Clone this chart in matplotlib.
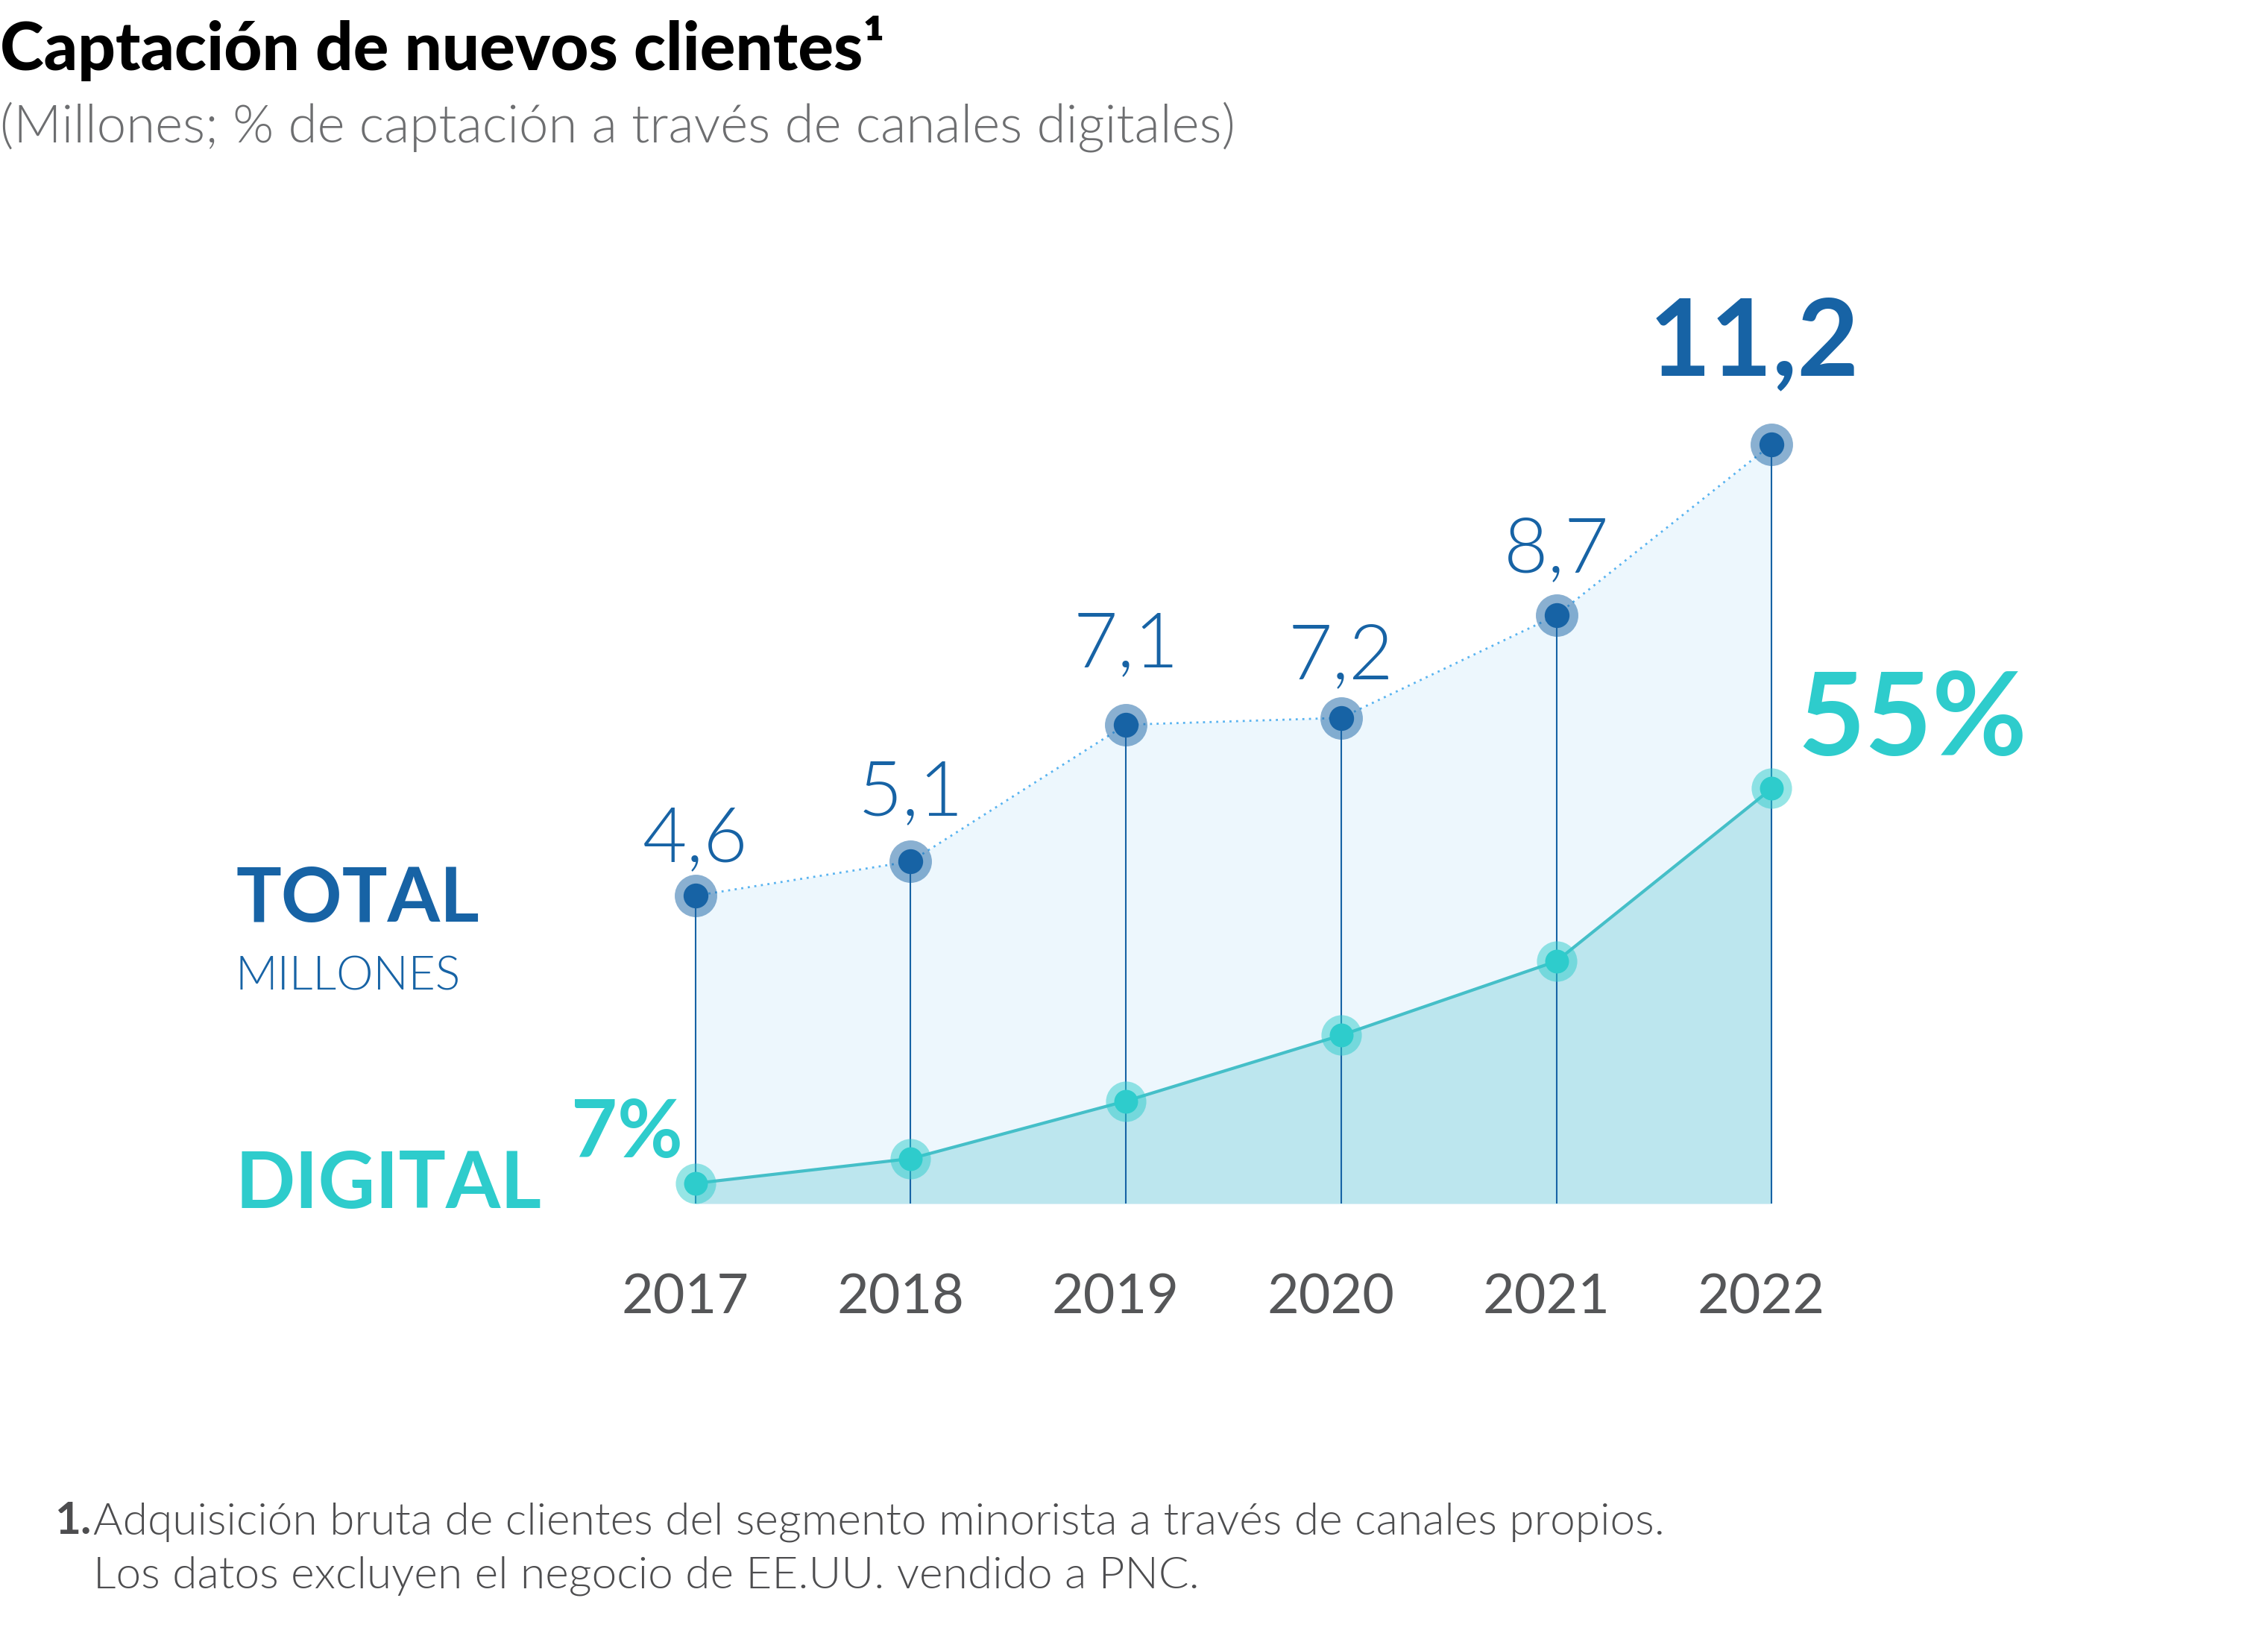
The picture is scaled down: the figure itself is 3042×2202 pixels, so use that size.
import matplotlib.pyplot as plt

# datos
years = ["2017", "2018", "2019", "2020", "2021", "2022"]
total_millones = [4.6, 5.1, 7.1, 7.2, 8.7, 11.2]
total_labels = ["4,6", "5,1", "7,1", "7,2", "8,7", "11,2"]
digital_pct = [7, 10, 17, 25, 34, 55]

title = "Captación de nuevos clientes¹"
subtitle = "(Millones; % de captación a través de canales digitales)"
note_1 = "Adquisición bruta de clientes del segmento minorista a través de canales propios."
note_2 = "Los datos excluyen el negocio de EE.UU. vendido a PNC."

DARK = "#1763a5"
TEAL = "#2ecccc"
GRAY = "#4d4d4f"
BODY = ["Lato", "DejaVu Sans"]
LIGHT = 300

W, H = 3042, 2202
fig = plt.figure(figsize=(W / 100, H / 100), dpi=100)


def fx(px):
    return px / W


def fy(px):
    return 1 - px / H


x = list(range(len(years)))

# ejes: borde inferior en la linea base, y propia para cada serie
ax = fig.add_axes([fx(644), fy(1614), fx(2665 - 644), (1614 - 485) / H])
ax.set_xlim(-1, 6)
ax.set_ylim(0.097, 12.41)
ax.axis("off")
ax2 = ax.twinx()
ax2.set_ylim(4.54, 106.9)
ax2.axis("off")
y0 = ax.get_ylim()[0]
d0 = ax2.get_ylim()[0]

ax.fill_between(x, total_millones, y0, color="#edf7fd", lw=0, zorder=1)
ax.fill_between(x, digital_pct, d0, color="#bce6ee", lw=0, zorder=2,
                transform=ax2.transData)
ax.vlines(x, y0, total_millones, color=DARK, lw=1.5, zorder=3)
ax.plot(x, total_millones, ls=(0, (1, 2.2)), color="#5ab4f0", lw=2, zorder=4)
ax.plot(x, digital_pct, color="#45bfc8", lw=3, zorder=4, transform=ax2.transData)

ax.plot(x, total_millones, "o", ms=41, color=DARK, alpha=0.5, mec="none", zorder=5)
ax.plot(x, total_millones, "o", ms=24, color=DARK, mec="none", zorder=6)
ax.plot(x, digital_pct, "o", ms=39, color=TEAL, alpha=0.5, mec="none", zorder=5,
        transform=ax2.transData)
ax.plot(x, digital_pct, "o", ms=23, color=TEAL, mec="none", zorder=6,
        transform=ax2.transData)

# etiquetas de valores
lab_dy = [33, 45, 56, 38, 42, 67]
for i, lab in enumerate(total_labels):
    last = i == len(total_labels) - 1
    ax.annotate(lab, (x[i], total_millones[i]), xytext=(-17 if last else 0, lab_dy[i]),
                textcoords="offset points", ha="center", va="baseline",
                fontsize=103 if last else 74, color=DARK,
                fontweight="bold" if last else LIGHT, family=BODY, zorder=7)

ax.annotate(f"{digital_pct[-1]}%", (x[-1], digital_pct[-1]), xycoords=ax2.transData,
            xytext=(25, 32), textcoords="offset points", ha="left", va="baseline",
            fontsize=112, color=TEAL, fontweight="bold", family=BODY)
ax.annotate(f"{digital_pct[0]}%", (x[0], digital_pct[0]), xycoords=ax2.transData,
            xytext=(-12, 25), textcoords="offset points", ha="right", va="baseline",
            fontsize=77, color=TEAL, fontweight="bold", family=BODY)

for i, yr in enumerate(years):
    ax.annotate(yr, (x[i], 0), xycoords=("data", "axes fraction"),
                xytext=(-10, -106), textcoords="offset points", ha="center",
                va="baseline", fontsize=53, color="#555658", family=BODY)

# leyenda en texto
fig.text(fx(316), fy(1236), "TOTAL", fontsize=73, fontweight="bold", color=DARK,
         family=BODY, va="baseline")
fig.text(fx(316), fy(1327), "MILLONES", fontsize=45, fontweight=LIGHT, color=DARK,
         family=BODY, va="baseline")
fig.text(fx(316), fy(1620), "DIGITAL", fontsize=76, fontweight="bold", color=TEAL,
         family=BODY, va="baseline")

# titulo y subtitulo
fig.text(0.0, fy(94), title, fontsize=64, fontweight=900, color="black",
         family=BODY, va="baseline")
fig.text(0.0, fy(190), subtitle, fontsize=51, fontweight=LIGHT, color="#6d6e70",
         family=BODY, va="baseline")

# nota
fig.text(fx(73), fy(2057), "1.", fontsize=43.5, fontweight="bold", color=GRAY,
         family=BODY, va="baseline")
fig.text(fx(125), fy(2057), note_1, fontsize=43.5, fontweight=LIGHT, color=GRAY,
         family=BODY, va="baseline")
fig.text(fx(125), fy(2130), note_2, fontsize=43.5, fontweight=LIGHT, color=GRAY,
         family=BODY, va="baseline")

fig.savefig("out.png", dpi=100, facecolor="white")
